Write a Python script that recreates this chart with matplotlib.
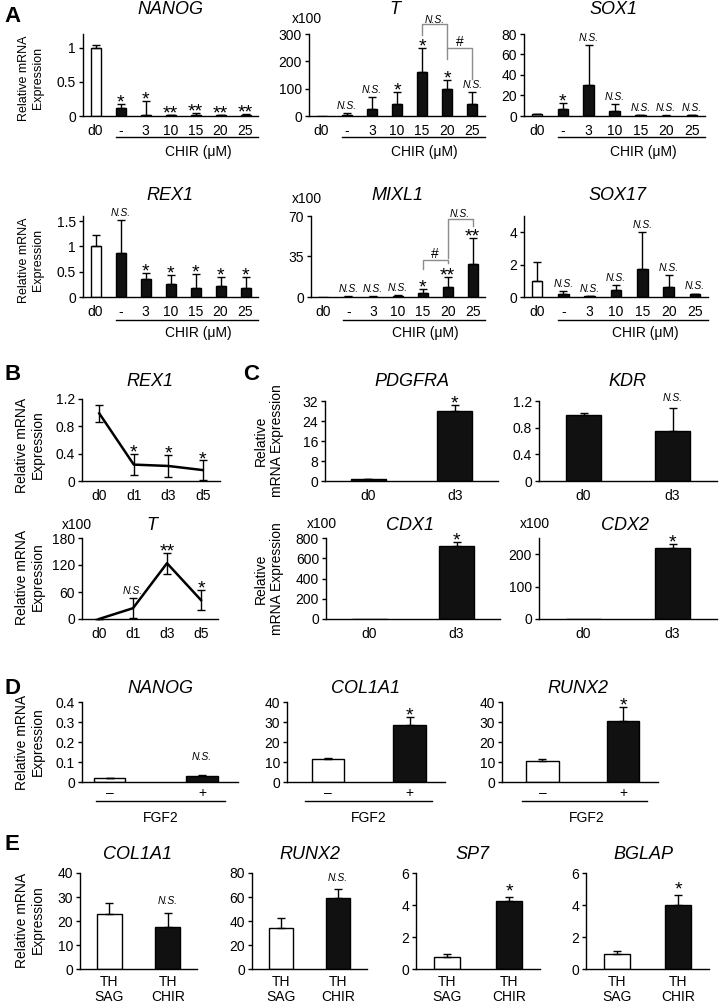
import numpy as np
import matplotlib.pyplot as plt
from matplotlib.ticker import FuncFormatter

plt.rcParams['font.family'] = ['Liberation Sans', 'DejaVu Sans']

W, H = 726, 1005

# ---------------- data ----------------
# Panel A (CHIR dose)
conc = ['d0', '-', '3', '10', '15', '20', '25']
a_colors = ['white'] + ['#111111'] * 6

nanog_a = [1.0, 0.12, 0.01, 0.01, 0.01, 0.01, 0.015]
nanog_a_err = [0.04, 0.05, 0.21, 0.01, 0.03, 0.01, 0.01]
nanog_a_sig = ['', '*', '*', '**', '**', '**', '**']

t_a = [0, 5, 25, 44, 160, 100, 43]
t_a_err = [0, 5, 44, 43, 88, 31, 44]
t_a_sig = ['', 'N.S.', 'N.S.', '*', '*', '*', 'N.S.']

sox1_a = [1.5, 6.5, 30.5, 5, 0.8, 0.3, 0.8]
sox1_a_err = [0.5, 6, 39, 6.5, 0.3, 0.2, 0.3]
sox1_a_sig = ['', '*', 'N.S.', 'N.S.', 'N.S.', 'N.S.', 'N.S.']

rex1_a = [1.0, 0.87, 0.35, 0.25, 0.18, 0.22, 0.17]
rex1_a_err = [0.22, 0.65, 0.12, 0.18, 0.28, 0.17, 0.23]
rex1_a_sig = ['', 'N.S.', '*', '*', '*', '*', '*']

mixl1_a = [0, 0.3, 0.3, 1.0, 3.7, 8.6, 28.2]
mixl1_a_err = [0, 0.2, 0.2, 0.5, 3, 8.7, 22.5]
mixl1_a_sig = ['', 'N.S.', 'N.S.', 'N.S.', '*', '**', '**']

sox17_a = [1.0, 0.17, 0.05, 0.45, 1.75, 0.6, 0.17]
sox17_a_err = [1.15, 0.18, 0.02, 0.3, 2.25, 0.77, 0.04]
sox17_a_sig = ['', 'N.S.', 'N.S.', 'N.S.', 'N.S.', 'N.S.', 'N.S.']

# Panel B (time course)
days = ['d0', 'd1', 'd3', 'd5']
rex1_b = [0.99, 0.24, 0.22, 0.16]
rex1_b_err = [0.12, 0.15, 0.16, 0.14]
rex1_b_sig = ['', '*', '*', '*']
t_b = [0, 24, 124, 42]
t_b_err = [0, 22, 23, 22]
t_b_sig = ['', 'N.S.', '**', '*']

# Panel C (d0 vs d3)
days_c = ['d0', 'd3']
pdgfra_c = [0.8, 28]
pdgfra_c_err = [0.2, 2.6]
kdr_c = [0.99, 0.75]
kdr_c_err = [0.025, 0.34]
cdx1_c = [0, 725]
cdx1_c_err = [0, 40]
cdx2_c = [0, 220]
cdx2_c_err = [0, 11]

# Panel D (FGF2)
fgf2 = ['\u2013', '+']
nanog_d = [0.02, 0.03]
nanog_d_err = [0.002, 0.006]
col1a1_d = [11.5, 28.5]
col1a1_d_err = [0.6, 4.2]
runx2_d = [10.3, 30.5]
runx2_d_err = [1.0, 6.8]

# Panel E (TH SAG vs TH CHIR)
cond_e = ['TH\nSAG', 'TH\nCHIR']
col1a1_e = [23, 17.5]
col1a1_e_err = [4.6, 6]
runx2_e = [33.8, 58.8]
runx2_e_err = [8.4, 7.7]
sp7_e = [0.72, 4.28]
sp7_e_err = [0.22, 0.2]
bglap_e = [0.95, 3.98]
bglap_e_err = [0.2, 0.65]

wb = ['white', '#111111']
bb = ['#111111', '#111111']

fig = plt.figure(figsize=(W / 100, H / 100), dpi=100)


def ftext(x, y, s, **kw):
    kw.setdefault('ha', 'center')
    kw.setdefault('va', 'center')
    fig.text(x / W, 1 - y / H, s, **kw)


def add_ax(L, R, T, B):
    ax = fig.add_axes([L / W, 1 - B / H, (R - L) / W, (B - T) / H])
    ax.spines[['top', 'right']].set_visible(False)
    ax.spines['left'].set_linewidth(1)
    ax.spines['bottom'].set_linewidth(1)
    ax.tick_params(axis='y', direction='out', length=3, width=1, labelsize=10, pad=2)
    ax.tick_params(axis='x', length=0, labelsize=10, pad=6)
    ax.yaxis.set_major_formatter(FuncFormatter(lambda v, p: '%g' % v))
    ax.patch.set_alpha(0)
    return ax


def mark(ax, x, y, s, off=0, star=14, ns=7.5):
    if not s:
        return
    if s == 'N.S.':
        ax.annotate(s, (x, y), xytext=(0, 3 + off), textcoords='offset points',
                    ha='center', va='baseline', fontsize=ns, style='italic',
                    annotation_clip=False)
    else:
        ax.annotate(s, (x, y), xytext=(0, -2.5 + off), textcoords='offset points',
                    ha='center', va='baseline', fontsize=star,
                    annotation_clip=False)


def bars(ax, labels, means, errs, colors, width, ylim, yticks, sig=None, xlim=None, off=0):
    x = np.arange(len(labels))
    m = np.array(means, float)
    e = np.array(errs, float)
    ax.bar(x, m, width, color=colors, edgecolor='black', linewidth=1, zorder=2)
    k = e > 0
    ax.errorbar(x[k], m[k], yerr=[np.zeros(k.sum()), e[k]], fmt='none', ecolor='black',
                elinewidth=1, capsize=3, capthick=1, zorder=3)
    ax.set_xticks(x)
    ax.set_xticklabels(labels)
    ax.set_xlim(xlim if xlim else (-0.5, len(labels) - 0.5))
    ax.set_ylim(*ylim)
    ax.set_yticks(yticks)
    if sig:
        for xi, mi, ei, s in zip(x, m, e, sig):
            mark(ax, xi, mi + ei, s, off=off)


def group(ax, x0, x1, text, ly, ty, tx):
    tr = ax.get_xaxis_transform()
    hpx = ax.get_position().height * H
    ax.plot([x0, x1], [-ly / hpx] * 2, color='black', lw=1, transform=tr, clip_on=False)
    ax.text(tx, -ty / hpx, text, transform=tr, ha='center', va='center', fontsize=10)


def bracket(ax, xs, ys, text, ty):
    ax.plot(xs, ys, color='#8c8c8c', lw=1, clip_on=False)
    ax.text((xs[0] + xs[-1]) / 2, ty, text, ha='center', va='baseline',
            fontsize=10 if text == '#' else 7.5, style='normal' if text == '#' else 'italic')


ylab2 = 'Relative mRNA\nExpression'

# ---------------- Panel A ----------------
ftext(4, 17, 'A', fontsize=16, fontweight='bold', ha='left')

ax = add_ax(83, 258, 34, 116)
bars(ax, conc, nanog_a, nanog_a_err, a_colors, 0.4, (0, 1.2), [0, 0.5, 1], nanog_a_sig)
group(ax, 0.8, 6.5, 'CHIR (\u03bcM)', 21, 36, 4.1)
ftext(170, 10, 'NANOG', fontsize=13, style='italic')
ftext(31, 78, ylab2, fontsize=9, rotation=90)

ax = add_ax(309, 485, 34, 116)
bars(ax, conc, t_a, t_a_err, a_colors, 0.4, (0, 300), [0, 100, 200, 300], t_a_sig)
group(ax, 0.8, 6.5, 'CHIR (\u03bcM)', 21, 36, 4.1)
bracket(ax, [4, 4, 5, 5], [298, 335, 335, 248], 'N.S.', 342)
bracket(ax, [5, 5, 6, 6], [210, 248, 248, 135], '#', 256)
ftext(395, 9, 'T', fontsize=13, style='italic')
ftext(307, 19, 'x100', fontsize=10)

ax = add_ax(524, 705, 34, 116)
bars(ax, conc, sox1_a, sox1_a_err, a_colors, 0.4, (0, 80), [0, 20, 40, 60, 80], sox1_a_sig)
group(ax, 0.8, 6.5, 'CHIR (\u03bcM)', 21, 36, 4.1)
ftext(613, 10, 'SOX1', fontsize=13, style='italic')

ax = add_ax(83, 258, 216, 297)
bars(ax, conc, rex1_a, rex1_a_err, a_colors, 0.4, (0, 1.6), [0, 0.5, 1, 1.5], rex1_a_sig)
group(ax, 0.8, 6.5, 'CHIR (\u03bcM)', 23, 36, 4.1)
ftext(170, 195, 'REX1', fontsize=13, style='italic')
ftext(31, 260, ylab2, fontsize=9, rotation=90)

ax = add_ax(311, 485, 216, 297)
bars(ax, conc, mixl1_a, mixl1_a_err, a_colors, 0.4, (0, 70), [0, 35, 70], mixl1_a_sig)
group(ax, 0.8, 6.5, 'CHIR (\u03bcM)', 23, 36, 4.1)
bracket(ax, [4, 4, 5, 5], [24, 31.7, 31.7, 29], '#', 33.5)
bracket(ax, [5, 5, 6, 6], [34, 67, 67, 61], 'N.S.', 69)
ftext(397, 195, 'MIXL1', fontsize=13, style='italic')
ftext(307, 199, 'x100', fontsize=10)

ax = add_ax(524, 708, 216, 297)
bars(ax, conc, sox17_a, sox17_a_err, a_colors, 0.4, (0, 5), [0, 2, 4], sox17_a_sig)
group(ax, 0.8, 6.5, 'CHIR (\u03bcM)', 23, 36, 4.1)
ftext(617, 195, 'SOX17', fontsize=13, style='italic')

# ---------------- Panel B ----------------
ftext(4, 374, 'B', fontsize=16, fontweight='bold', ha='left')


def line_panel(ax, vals, errs, sig, ylim, yticks):
    x = np.arange(len(days))
    ax.errorbar(x, vals, yerr=errs, color='black', lw=1.8, elinewidth=1, capsize=3,
                capthick=1, zorder=3, clip_on=False)
    ax.set_xticks(x)
    ax.set_xticklabels(days)
    ax.set_xlim(-0.5, 3.5)
    ax.set_ylim(*ylim)
    ax.set_yticks(yticks)
    for xi, v, e, s in zip(x, vals, errs, sig):
        mark(ax, xi, v + e, s)


ax = add_ax(82, 220, 399, 481)
line_panel(ax, rex1_b, rex1_b_err, rex1_b_sig, (0, 1.2), [0, 0.4, 0.8, 1.2])
ftext(150, 382, 'REX1', fontsize=13, style='italic')
ftext(30, 445, ylab2, fontsize=10, rotation=90)

ax = add_ax(82, 218, 538, 619)
line_panel(ax, t_b, t_b_err, t_b_sig, (0, 180), [0, 60, 120, 180])
ftext(152, 525, 'T', fontsize=13, style='italic')
ftext(77, 525, 'x100', fontsize=10)
ftext(30, 577, ylab2, fontsize=10, rotation=90)

# ---------------- Panel C ----------------
ftext(243, 374, 'C', fontsize=16, fontweight='bold', ha='left')
ylab3 = 'Relative\nmRNA Expression'

ax = add_ax(325, 498, 401, 481)
bars(ax, days_c, pdgfra_c, pdgfra_c_err, bb, 0.4, (0, 32), [0, 8, 16, 24, 32], ['', '*'])
ftext(412, 382, 'PDGFRA', fontsize=13, style='italic')
ftext(269, 441, ylab3, fontsize=10, rotation=90)

ax = add_ax(539, 717, 401, 481)
bars(ax, days_c, kdr_c, kdr_c_err, bb, 0.4, (0, 1.2), [0, 0.4, 0.8, 1.2], ['', 'N.S.'], off=2)
ftext(627, 382, 'KDR', fontsize=13, style='italic')

ax = add_ax(326, 500, 538, 619)
bars(ax, days_c, cdx1_c, cdx1_c_err, bb, 0.4, (0, 800), [0, 200, 400, 600, 800], ['', '*'])
ftext(410, 525, 'CDX1', fontsize=13, style='italic')
ftext(322, 524, 'x100', fontsize=10)
ftext(269, 579, ylab3, fontsize=10, rotation=90)

ax = add_ax(539, 717, 538, 619)
bars(ax, days_c, cdx2_c, cdx2_c_err, bb, 0.4, (0, 250), [0, 100, 200], ['', '*'])
ftext(625, 525, 'CDX2', fontsize=13, style='italic')
ftext(535, 524, 'x100', fontsize=10)

# ---------------- Panel D ----------------
ftext(4, 688, 'D', fontsize=16, fontweight='bold', ha='left')

ax = add_ax(82, 238, 702, 782)
bars(ax, fgf2, nanog_d, nanog_d_err, wb, 0.34, (0, 0.4), [0, 0.1, 0.2, 0.3, 0.4],
     ['', 'N.S.'], xlim=(-0.3, 1.39), off=8)
ax.tick_params(axis='x', pad=3)
group(ax, -0.15, 1.25, 'FGF2', 19, 36, 0.55)
ftext(160, 688, 'NANOG', fontsize=13, style='italic')
ftext(30, 742, ylab2, fontsize=10, rotation=90)

ax = add_ax(287, 445, 702, 782)
bars(ax, fgf2, col1a1_d, col1a1_d_err, wb, 0.4, (0, 40), [0, 10, 20, 30, 40],
     ['', '*'], xlim=(-0.5, 1.43))
ax.tick_params(axis='x', pad=3)
group(ax, -0.28, 1.27, 'FGF2', 19, 36, 0.5)
ftext(366, 688, 'COL1A1', fontsize=13, style='italic')

ax = add_ax(502, 658, 702, 782)
bars(ax, fgf2, runx2_d, runx2_d_err, wb, 0.4, (0, 40), [0, 10, 20, 30, 40],
     ['', '*'], xlim=(-0.5, 1.43))
ax.tick_params(axis='x', pad=3)
group(ax, -0.25, 1.3, 'FGF2', 19, 36, 0.55)
ftext(578, 688, 'RUNX2', fontsize=13, style='italic')

# ---------------- Panel E ----------------
ftext(4, 845, 'E', fontsize=16, fontweight='bold', ha='left')

e_panels = [
    ((80, 197), col1a1_e, col1a1_e_err, (0, 40), [0, 10, 20, 30, 40], 'N.S.', 'COL1A1', 138),
    ((252, 367), runx2_e, runx2_e_err, (0, 80), [0, 20, 40, 60, 80], 'N.S.', 'RUNX2', 310),
    ((416, 540), sp7_e, sp7_e_err, (0, 6), [0, 2, 4, 6], '*', 'SP7', 472),
    ((586, 709), bglap_e, bglap_e_err, (0, 6), [0, 2, 4, 6], '*', 'BGLAP', 643),
]
for (l, r), vals, errs, ylim, yt, s, name, tx in e_panels:
    ax = add_ax(l, r, 873, 969)
    bars(ax, cond_e, vals, errs, wb, 0.42, ylim, yt, ['', s], off=3)
    ax.tick_params(axis='x', pad=4)
    for t in ax.get_xticklabels():
        t.set_linespacing(1.15)
    ftext(tx, 854, name, fontsize=13, style='italic')
ftext(30, 920, ylab2, fontsize=10, rotation=90)

fig.savefig('out.png', dpi=100)
